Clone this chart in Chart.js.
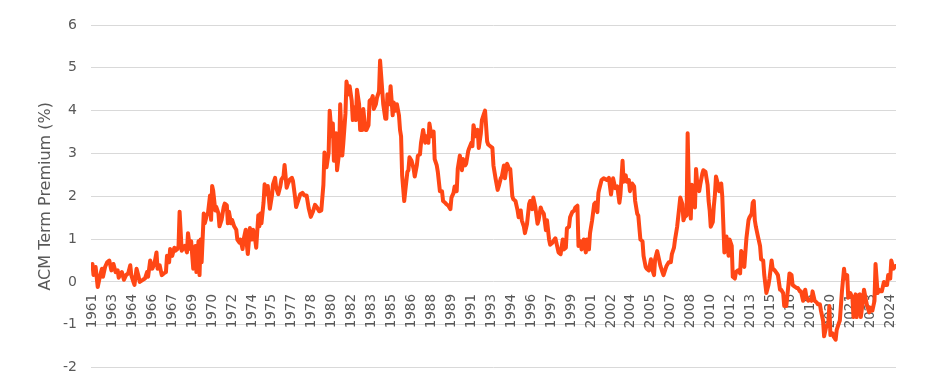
<!DOCTYPE html>
<html>
<head>
<meta charset="utf-8">
<title>ACM Term Premium</title>
<script src="https://cdn.jsdelivr.net/npm/chart.js@4.4.1/dist/chart.umd.min.js"></script>
<style>
  html, body { margin: 0; padding: 0; background: #ffffff; }
  #wrap { width: 937px; height: 390px; }
</style>
</head>
<body>
<div id="wrap"><canvas id="tpChart" width="937" height="390"></canvas></div>
<script>
// ---------------------------------------------------------------------------
// data: months since Jun 1961 and the ACM term premium (%)
// ---------------------------------------------------------------------------
const months = [
    0, 1, 3, 5, 7, 9, 10, 12, 14, 16,
    18, 20, 22, 24, 25, 27, 28, 30, 32, 34,
    36, 37, 39, 40, 42, 44, 45, 48, 50, 52,
    53, 55, 57, 59, 61, 62, 64, 66, 68, 70,
    71, 73, 74, 76, 78, 79, 81, 82, 83, 85,
    86, 88, 90, 91, 93, 94, 96, 98, 99, 101,
    102, 103, 104, 106, 107, 109, 110, 112, 113, 114,
    115, 117, 118, 120, 121, 123, 125, 126, 128, 129,
    130, 132, 133, 135, 137, 138, 140, 141, 143, 144,
    146, 147, 148, 150, 152, 153, 155, 156, 158, 159,
    160, 161, 163, 164, 166, 167, 169, 171, 172, 174,
    175, 177, 179, 180, 182, 183, 185, 186, 188, 190,
    191, 193, 194, 196, 198, 200, 202, 204, 206, 208,
    210, 212, 214, 216, 218, 220, 221, 223, 225, 226,
    228, 229, 230, 232, 233, 235, 236, 238, 239, 241,
    242, 244, 245, 247, 248, 249, 251, 252, 254, 255,
    257, 258, 260, 261, 263, 264, 266, 267, 268, 270,
    271, 273, 274, 275, 277, 279, 280, 281, 283, 284,
    286, 287, 289, 290, 292, 293, 294, 295, 297, 298,
    300, 301, 302, 304, 306, 307, 309, 310, 312, 313,
    315, 317, 318, 320, 321, 323, 325, 326, 328, 329,
    331, 333, 334, 336, 337, 339, 341, 342, 344, 345,
    347, 348, 350, 352, 353, 355, 356, 358, 359, 361,
    362, 363, 365, 367, 368, 370, 371, 373, 374, 376,
    377, 379, 381, 382, 384, 386, 387, 389, 390, 392,
    393, 395, 397, 398, 400, 401, 403, 405, 406, 408,
    409, 411, 412, 414, 416, 417, 419, 420, 422, 424,
    425, 427, 428, 430, 432, 433, 435, 436, 438, 439,
    441, 443, 444, 446, 448, 449, 451, 452, 454, 455,
    457, 459, 460, 462, 463, 465, 466, 468, 470, 471,
    473, 474, 476, 478, 479, 481, 482, 483, 485, 487,
    490, 492, 494, 496, 498, 500, 502, 503, 505, 506,
    508, 509, 511, 512, 514, 516, 517, 519, 520, 522,
    524, 525, 527, 528, 530, 532, 533, 535, 536, 538,
    539, 541, 543, 544, 546, 547, 549, 551, 552, 554,
    555, 557, 559, 560, 562, 563, 564, 566, 567, 568,
    570, 571, 572, 574, 575, 576, 578, 579, 581, 582,
    584, 586, 587, 588, 589, 591, 592, 593, 594, 596,
    597, 599, 600, 602, 604, 606, 607, 609, 610, 612,
    613, 615, 617, 618, 620, 621, 623, 625, 626, 628,
    629, 630, 631, 632, 634, 636, 637, 639, 640, 642,
    644, 645, 647, 648, 650, 652, 653, 655, 656, 658,
    659, 661, 663, 664, 666, 667, 669, 671, 672, 674,
    675, 677, 679, 680, 682, 683, 685, 686, 688, 690,
    691, 693, 694, 696, 697, 699, 701, 702, 703, 705,
    706, 708, 709, 711, 712, 714, 716, 717, 719, 720,
    722, 724, 725, 727, 728, 729, 731, 732, 734, 735,
    737, 738, 740, 741, 743, 745, 746, 748, 749, 750,
    752, 754, 755, 757, 758, 760, 761, 763, 765
];

const termPremium = [
    0.42, 0.16, 0.35, -0.12, 0.12, 0.31, 0.12, 0.35, 0.46, 0.5,
    0.27, 0.42, 0.23, 0.27, 0.1, 0.2, 0.23, 0.05, 0.16, 0.2,
    0.39, 0.16, 0.0, -0.07, 0.31, 0.12, 0.0, 0.05, 0.08, 0.23,
    0.12, 0.5, 0.31, 0.42, 0.69, 0.31, 0.39, 0.16, 0.2, 0.23,
    0.61, 0.46, 0.77, 0.61, 0.8, 0.73, 0.77, 0.84, 1.64, 0.73,
    0.77, 0.84, 0.69, 1.14, 0.77, 0.95, 0.31, 0.84, 0.23, 0.95,
    0.16, 0.99, 0.46, 1.6, 1.37, 1.56, 1.6, 2.02, 1.45, 2.24,
    2.13, 1.67, 1.75, 1.6, 1.3, 1.45, 1.75, 1.83, 1.79, 1.37,
    1.64, 1.37, 1.45, 1.3, 1.22, 0.99, 0.92, 0.99, 0.77, 0.99,
    1.22, 0.88, 0.65, 1.26, 0.99, 1.22, 0.99, 0.8, 1.56, 1.3,
    1.6, 1.37, 1.86, 2.28, 2.05, 2.24, 1.71, 2.02, 2.28, 2.43,
    2.2, 2.05, 2.24, 2.39, 2.47, 2.73, 2.2, 2.28, 2.39, 2.43,
    2.36, 1.98, 1.75, 1.9, 2.05, 2.08, 2.02, 2.02, 1.72, 1.52,
    1.64, 1.8, 1.74, 1.65, 1.67, 2.27, 3.02, 2.68, 3.02, 4.0,
    3.4, 3.7, 2.83, 3.47, 2.61, 3.02, 4.15, 2.95, 3.25, 3.93,
    4.68, 4.38, 4.57, 4.23, 3.78, 4.08, 3.78, 4.49, 4.15, 3.55,
    3.55, 4.04, 3.55, 3.55, 3.66, 4.23, 4.27, 4.34, 4.04, 4.15,
    4.3, 4.45, 5.17, 4.83, 4.15, 3.81, 3.81, 4.38, 4.15, 4.57,
    3.89, 4.19, 4.0, 4.15, 3.89, 3.55, 3.4, 2.49, 1.89, 2.12,
    2.57, 2.61, 2.91, 2.83, 2.64, 2.46, 2.72, 2.95, 2.98, 3.25,
    3.55, 3.25, 3.4, 3.25, 3.7, 3.4, 3.51, 2.87, 2.72, 2.57,
    2.12, 2.12, 1.89, 1.85, 1.82, 1.78, 1.7, 1.97, 2.08, 2.23,
    2.12, 2.64, 2.95, 2.61, 2.87, 2.72, 2.76, 3.06, 3.13, 3.25,
    3.17, 3.66, 3.4, 3.55, 3.13, 3.47, 3.78, 3.93, 4.0, 3.28,
    3.21, 3.17, 3.13, 2.72, 2.42, 2.15, 2.23, 2.42, 2.46, 2.72,
    2.42, 2.76, 2.64, 2.64, 2.0, 1.93, 1.89, 1.67, 1.51, 1.67,
    1.44, 1.29, 1.14, 1.36, 1.82, 1.89, 1.7, 1.97, 1.74, 1.36,
    1.44, 1.74, 1.67, 1.59, 1.21, 1.44, 0.99, 0.87, 0.91, 0.95,
    1.02, 0.8, 0.69, 0.65, 0.99, 0.76, 0.8, 1.25, 1.29, 1.51,
    1.63, 1.67, 1.74, 1.78, 0.84, 0.95, 0.76, 0.99, 0.69, 0.99,
    0.76, 1.14, 1.44, 1.82, 1.85, 1.63, 2.08, 2.19, 2.38, 2.42,
    2.38, 2.43, 2.04, 2.42, 2.19, 2.23, 1.85, 2.04, 2.83, 2.34,
    2.49, 2.34, 2.38, 2.12, 2.3, 2.23, 1.89, 1.59, 1.55, 0.99,
    0.95, 0.61, 0.35, 0.31, 0.27, 0.53, 0.31, 0.16, 0.53, 0.72,
    0.61, 0.38, 0.23, 0.16, 0.31, 0.38, 0.46, 0.46, 0.65, 0.8,
    0.99, 1.29, 1.74, 1.97, 1.82, 1.44, 1.51, 1.55, 3.47, 2.34,
    1.48, 2.27, 2.15, 1.74, 2.64, 2.34, 2.12, 2.27, 2.53, 2.61,
    2.57, 2.27, 1.89, 1.67, 1.29, 1.4, 1.78, 2.04, 2.46, 2.27,
    2.12, 2.3, 2.0, 0.69, 1.06, 0.61, 0.99, 0.84, 0.12, 0.08,
    0.23, 0.27, 0.2, 0.72, 0.61, 0.35, 1.02, 1.44, 1.51, 1.59,
    1.85, 1.89, 1.44, 1.29, 1.06, 0.84, 0.53, 0.5, 0.16, -0.26,
    -0.07, 0.08, 0.5, 0.31, 0.27, 0.2, 0.16, -0.18, -0.18, -0.26,
    -0.56, -0.56, -0.07, 0.2, 0.16, -0.07, -0.11, -0.14, -0.14, -0.22,
    -0.22, -0.44, -0.18, -0.33, -0.44, -0.41, -0.44, -0.22, -0.44, -0.48,
    -0.52, -0.52, -0.67, -0.9, -1.27, -1.05, -0.97, -0.56, -1.24, -1.2,
    -1.27, -1.35, -1.12, -0.97, -0.9, -0.22, 0.31, 0.08, 0.16, -0.37,
    -0.26, -0.37, -0.82, -0.29, -0.82, -0.33, -0.29, -0.82, -0.44, -0.18,
    -0.44, -0.56, -0.71, -0.6, -0.67, -0.44, 0.42, -0.26, -0.18, -0.22,
    -0.22, 0.0, -0.07, -0.07, 0.16, 0.08, 0.5, 0.31, 0.37
];

// one label every 19 months, starting at month 0
const tickLabels = [
    "1961", "1963", "1964", "1966", "1967", "1969", "1970", "1972", "1974", "1975",
    "1977", "1978", "1980", "1982", "1983", "1985", "1986", "1988", "1989", "1991",
    "1993", "1994", "1996", "1997", "1999", "2001", "2002", "2004", "2005", "2007",
    "2008", "2010", "2012", "2013", "2015", "2016", "2018", "2020", "2021", "2023",
    "2024"
];
const TICK_STEP = 19;

const LINE_COLOR = "#ff4715";
const TEXT_COLOR = "#595959";
const GRID_COLOR = "#d9d9d9";
const FONT = "'DejaVu Sans', sans-serif";

// -----------------------------------------------------------------------------
// chart
// -----------------------------------------------------------------------------
const points = months.map((m, i) => ({ x: m, y: termPremium[i] }));

const ctx = document.getElementById("tpChart");

new Chart(ctx, {
    type: "line",
    data: {
        datasets: [{
            label: "ACM Term Premium",
            data: points,
            borderColor: LINE_COLOR,
            borderWidth: 4,
            borderJoinStyle: "round",
            borderCapStyle: "round",
            pointRadius: 0,
            tension: 0,
            fill: false,
        }],
    },
    options: {
        responsive: false,
        animation: false,
        devicePixelRatio: 1,
        layout: {
            padding: { left: 0, top: 25, right: 41, bottom: 11 },
        },
        plugins: {
            legend: { display: false },
            tooltip: { enabled: false },
        },
        scales: {
            x: {
                type: "linear",
                position: { y: 0 },
                min: -1.4,
                max: 765.5,
                grid: { display: false, drawTicks: false },
                border: { display: false },
                afterBuildTicks: (scale) => {
                    scale.ticks = tickLabels.map((_, i) => ({ value: i * TICK_STEP }));
                },
                ticks: {
                    autoSkip: false,
                    minRotation: 90,
                    maxRotation: 90,
                    padding: 12,
                    color: TEXT_COLOR,
                    font: { family: FONT, size: 13.5 },
                    callback: (value) => tickLabels[Math.round(value / TICK_STEP)],
                },
            },
            y: {
                min: -2,
                max: 6,
                afterFit: (scale) => { scale.width = 91; },
                grid: { color: GRID_COLOR, lineWidth: 1, drawTicks: false },
                border: { display: false },
                ticks: {
                    stepSize: 1,
                    padding: 14,
                    color: TEXT_COLOR,
                    font: { family: FONT, size: 14 },
                },
                title: {
                    display: true,
                    text: "ACM Term Premium (%)",
                    color: TEXT_COLOR,
                    font: { family: FONT, size: 16 },
                    padding: { top: 36, bottom: 0 },
                },
            },
        },
    },
});
</script>
</body>
</html>
